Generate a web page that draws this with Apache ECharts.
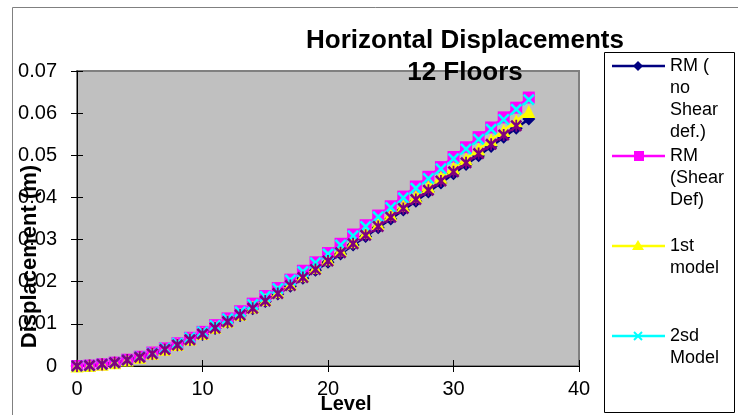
<!DOCTYPE html>
<html>
<head>
<meta charset="utf-8">
<title>Horizontal Displacements</title>
<script src="https://cdn.jsdelivr.net/npm/echarts@6.0.0/dist/echarts.min.js"></script>
<style>
  html, body { margin: 0; padding: 0; background: #fff; }
  #chart { width: 738px; height: 415px; }
</style>
</head>
<body>
<div id="chart"></div>
<script>
// levels (x) and displacements in m
const levels = [0, 1, 2, 3, 4, 5, 6, 7, 8, 9, 10, 11, 12, 13, 14, 15, 16, 17, 18,
  19, 20, 21, 22, 23, 24, 25, 26, 27, 28, 29, 30, 31, 32, 33, 34, 35, 36];

const rmNoShear = [0, 0.0001, 0.0003, 0.0008, 0.0013, 0.0021, 0.0029, 0.0039, 0.0050, 0.0062,
  0.0075, 0.0089, 0.0104, 0.0119, 0.0136, 0.0153, 0.0171, 0.0189, 0.0208, 0.0227,
  0.0246, 0.0266, 0.0287, 0.0307, 0.0328, 0.0349, 0.0370, 0.0391, 0.0413, 0.0434,
  0.0456, 0.0478, 0.0499, 0.0521, 0.0543, 0.0564, 0.0586];

const rmShear = [0, 0.0001, 0.0004, 0.0008, 0.0015, 0.0022, 0.0032, 0.0042, 0.0054, 0.0067,
  0.0081, 0.0097, 0.0113, 0.0130, 0.0148, 0.0166, 0.0185, 0.0205, 0.0226, 0.0246,
  0.0268, 0.0290, 0.0312, 0.0334, 0.0357, 0.0379, 0.0402, 0.0426, 0.0449, 0.0472,
  0.0496, 0.0519, 0.0543, 0.0566, 0.0590, 0.0613, 0.0637];

const firstModel = [0, 0.0001, 0.0004, 0.0008, 0.0014, 0.0021, 0.0030, 0.0040, 0.0051, 0.0064,
  0.0077, 0.0092, 0.0107, 0.0123, 0.0140, 0.0158, 0.0176, 0.0195, 0.0214, 0.0234,
  0.0254, 0.0275, 0.0295, 0.0317, 0.0338, 0.0360, 0.0381, 0.0403, 0.0426, 0.0448,
  0.0470, 0.0492, 0.0515, 0.0537, 0.0559, 0.0582, 0.0604];

const secondModel = [0, 0.0001, 0.0004, 0.0008, 0.0014, 0.0022, 0.0031, 0.0042, 0.0054, 0.0067,
  0.0081, 0.0096, 0.0112, 0.0129, 0.0146, 0.0165, 0.0184, 0.0204, 0.0224, 0.0245,
  0.0266, 0.0287, 0.0309, 0.0331, 0.0354, 0.0376, 0.0399, 0.0422, 0.0445, 0.0468,
  0.0492, 0.0515, 0.0538, 0.0562, 0.0585, 0.0609, 0.0632];

// fifth series, its legend entry is cut off in the original (levels 0..35)
const fifthModel = [0, 0.0001, 0.0004, 0.0008, 0.0014, 0.0021, 0.0029, 0.0039, 0.0050, 0.0062,
  0.0076, 0.0090, 0.0105, 0.0121, 0.0137, 0.0154, 0.0172, 0.0191, 0.0210, 0.0229,
  0.0249, 0.0269, 0.0290, 0.0310, 0.0331, 0.0353, 0.0374, 0.0395, 0.0417, 0.0439,
  0.0461, 0.0482, 0.0504, 0.0526, 0.0548, 0.0570];

const seriesNames = ['RM (no Shear def.)', 'RM (Shear Def)', '1st model', '2sd Model', 'Series5'];
const legendLines = [['RM (', 'no', 'Shear', 'def.)'], ['RM', '(Shear', 'Def)'], ['1st', 'model'], ['2sd', 'Model']];

const CROSS = 'path://M0,1.5L1.5,0L5,3.5L8.5,0L10,1.5L6.5,5L10,8.5L8.5,10L5,6.5L1.5,10L0,8.5L3.5,5Z';
const STAR = 'path://M0,1.5L1.5,0L5,3.5L8.5,0L10,1.5L6.5,5L10,8.5L8.5,10L5,6.5L1.5,10L0,8.5L3.5,5Z' +
  'M4.25,0L5.75,0L5.75,10L4.25,10Z';

const styles = [
  { color: '#000080', symbol: 'diamond', size: 13 },
  { color: '#ff00ff', symbol: 'rect', size: 12 },
  { color: '#ffff00', symbol: 'triangle', size: 13 },
  { color: '#00ffff', symbol: CROSS, size: 12 },
  { color: '#800080', symbol: STAR, size: 12 }
];

const FONT = '"Liberation Sans", Arial, sans-serif';
const allData = [rmNoShear, rmShear, firstModel, secondModel, fifthModel];

const series = allData.map((vals, i) => ({
  name: seriesNames[i],
  type: 'line',
  xAxisIndex: 0,
  yAxisIndex: 0,
  data: vals.map((v, k) => [levels[k], v]),
  symbol: styles[i].symbol,
  symbolSize: styles[i].size,
  showAllSymbol: true,
  lineStyle: { color: styles[i].color, width: 2.5 },
  itemStyle: { color: styles[i].color, borderWidth: 0 },
  animation: false
}));

// legend drawn as graphic so the marker sits on the first text line, like in Excel
const legendY = [66, 156, 246, 336];
const legendGraphic = [];
legendLines.forEach((lines, i) => {
  const y = legendY[i];
  const c = styles[i].color;
  legendGraphic.push({ type: 'line', shape: { x1: 612, y1: y, x2: 665, y2: y }, style: { stroke: c, lineWidth: 2.5 } });
  if (i === 0) {
    legendGraphic.push({ type: 'polygon', shape: { points: [[638, y - 5], [643, y], [638, y + 5], [633, y]] }, style: { fill: c } });
  } else if (i === 1) {
    legendGraphic.push({ type: 'rect', shape: { x: 634, y: y - 5, width: 10, height: 10 }, style: { fill: c } });
  } else if (i === 2) {
    legendGraphic.push({ type: 'polygon', shape: { points: [[638, y - 6], [644, y + 4], [632, y + 4]] }, style: { fill: c } });
  } else {
    legendGraphic.push({ type: 'line', shape: { x1: 634, y1: y - 4, x2: 642, y2: y + 4 }, style: { stroke: c, lineWidth: 2 } });
    legendGraphic.push({ type: 'line', shape: { x1: 642, y1: y - 4, x2: 634, y2: y + 4 }, style: { stroke: c, lineWidth: 2 } });
  }
  legendGraphic.push({
    type: 'text', x: 670, y: y - 11,
    style: { text: lines.join('\n'), font: '18px ' + FONT, lineHeight: 22, fill: '#000', verticalAlign: 'top' }
  });
});

const chart = echarts.init(document.getElementById('chart'));

const option = {
  animation: false,
  backgroundColor: '#ffffff',
  title: {
    text: 'Horizontal Displacements\n12 Floors',
    left: 465,
    top: 0,
    textAlign: 'center',
    padding: [25, 0, 0, 0],
    textStyle: { fontFamily: FONT, fontSize: 26, fontWeight: 'bold', color: '#000', lineHeight: 32 }
  },
  grid: {
    left: 77, right: 159, top: 71, bottom: 49,
    outerBoundsMode: 'none',
    containLabel: false,
    show: true,
    backgroundColor: '#c0c0c0',
    borderColor: '#808080',
    borderWidth: 2
  },
  xAxis: [
    {
      type: 'value', min: 0, max: 40, interval: 10,
      name: 'Level', nameLocation: 'middle', nameGap: 28, nameMoveOverlap: false,
      nameTextStyle: { fontFamily: FONT, fontSize: 20, fontWeight: 'bold', color: '#000', padding: [0, 0, 0, 36] },
      axisLine: { show: true, onZero: false, lineStyle: { color: '#000', width: 1 } },
      axisTick: { show: true, inside: false, length: 6, lineStyle: { color: '#000' } },
      axisLabel: { fontFamily: FONT, fontSize: 20, color: '#000', margin: 13 },
      splitLine: { show: false }
    },
    {
      type: 'value', min: 0, max: 40, interval: 10, position: 'bottom',
      axisLine: { show: false },
      axisTick: { show: true, inside: true, length: 6, lineStyle: { color: '#000' } },
      axisLabel: { show: false },
      splitLine: { show: false }
    }
  ],
  yAxis: [
    {
      type: 'value', min: 0, max: 0.07, interval: 0.01,
      name: 'Displacement (m)', nameLocation: 'middle', nameGap: 36, nameRotate: 90, nameMoveOverlap: false,
      nameTextStyle: { fontFamily: FONT, fontSize: 22, fontWeight: 'bold', color: '#000', padding: [0, 76, 0, 0] },
      axisLine: { show: true, onZero: false, lineStyle: { color: '#000', width: 1 } },
      axisTick: { show: true, inside: false, length: 6, lineStyle: { color: '#000' } },
      axisLabel: { fontFamily: FONT, fontSize: 20, color: '#000', margin: 20 },
      splitLine: { show: false }
    },
    {
      type: 'value', min: 0, max: 0.07, interval: 0.01, position: 'left',
      axisLine: { show: false },
      axisTick: { show: true, inside: true, length: 6, lineStyle: { color: '#000' } },
      axisLabel: { show: false },
      splitLine: { show: false }
    }
  ],
  graphic: [
    { type: 'rect', z: -10, shape: { x: 12.5, y: 7.5, width: 800, height: 500 }, style: { fill: 'none', stroke: '#808080', lineWidth: 1 } },
    { type: 'rect', shape: { x: 604.5, y: 52.5, width: 130, height: 360 }, style: { fill: '#fff', stroke: '#000', lineWidth: 1 } }
  ].concat(legendGraphic),
  series: series
};

chart.setOption(option);
</script>
</body>
</html>
